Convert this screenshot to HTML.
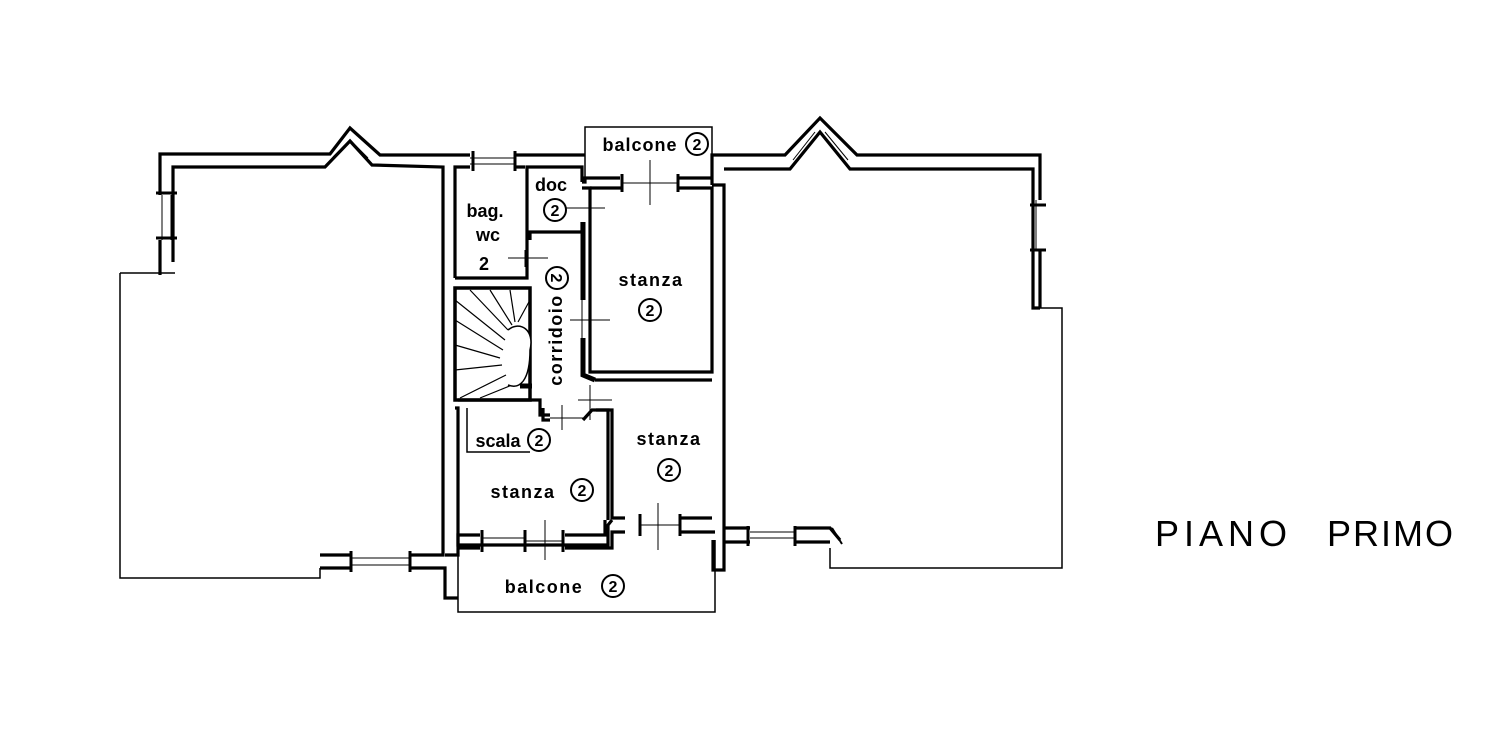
<!DOCTYPE html>
<html><head><meta charset="utf-8"><style>
html,body{margin:0;padding:0;background:#fff;width:1500px;height:749px;overflow:hidden}
svg text{font-family:"Liberation Sans",sans-serif;font-weight:bold;fill:#000}
</style></head><body>
<svg width="1500" height="749" viewBox="0 0 1500 749" xmlns="http://www.w3.org/2000/svg">
<g fill="none" stroke="#000" stroke-width="3.2" stroke-linejoin="miter">
<!-- LEFT WING -->
<polyline points="160,275 160,154 330,154 350,128 380,155 585,155"/>
<polyline points="173,262 173,167 325,167 350,141 372,165 443,167 443,555 320,555"/>
<line x1="333" y1="157" x2="345" y2="145" stroke-width="1"/>
<line x1="355" y1="145" x2="368" y2="158" stroke-width="1"/>
<polyline points="120,273 175,273" stroke-width="1.5"/>
<polyline points="120,273 120,578 320,578 320,568" stroke-width="1.5"/>
<polyline points="320,568 445,568 445,598 458,598"/>
<line x1="160" y1="195" x2="160" y2="240" stroke="#fff" stroke-width="4"/>
<line x1="162" y1="195" x2="162" y2="240" stroke-width="1"/>
<line x1="171" y1="195" x2="171" y2="240" stroke-width="1"/>
<line x1="156" y1="193" x2="177" y2="193" stroke-width="3"/>
<line x1="156" y1="238" x2="177" y2="238" stroke-width="3"/>
<line x1="350" y1="555" x2="410" y2="555" stroke="#fff" stroke-width="4"/>
<line x1="350" y1="568" x2="410" y2="568" stroke="#fff" stroke-width="4"/>
<line x1="350" y1="558" x2="410" y2="558" stroke-width="1"/>
<line x1="350" y1="565" x2="410" y2="565" stroke-width="1"/>
<line x1="351" y1="551" x2="351" y2="572" stroke-width="3"/>
<line x1="410" y1="551" x2="410" y2="572" stroke-width="3"/>
<!-- central top wall -->
<polyline points="455,278 455,167 525,167"/>
<line x1="470" y1="155" x2="515" y2="155" stroke="#fff" stroke-width="4"/>
<line x1="470" y1="167" x2="515" y2="167" stroke="#fff" stroke-width="4"/>
<line x1="470" y1="158" x2="515" y2="158" stroke-width="1"/>
<line x1="470" y1="164" x2="515" y2="164" stroke-width="1"/>
<line x1="473" y1="151" x2="473" y2="171" stroke-width="3"/>
<line x1="515" y1="151" x2="515" y2="171" stroke-width="3"/>
<!-- bag wc -->
<polyline points="455,278 527,278 527,240"/>
<polyline points="527,240 527,167 582,167 582,182"/>
<polyline points="530,240 530,232 582,232 582,222"/>
<line x1="508" y1="258" x2="548" y2="258" stroke-width="1"/>
<line x1="525" y1="250" x2="525" y2="267" stroke-width="1"/>
<!-- doc / balcone top -->
<polyline points="585,182 585,127 712,127 712,185" stroke-width="1.5"/>
<polyline points="582,182 585,182 585,178 620,178"/>
<polyline points="582,188 590,188 590,372 712,372 712,188 678,188"/>
<polyline points="590,188 622,188"/>
<line x1="622" y1="174" x2="622" y2="192" stroke-width="3"/>
<line x1="678" y1="174" x2="678" y2="192" stroke-width="3"/>
<line x1="678" y1="178" x2="712" y2="178"/>
<line x1="622" y1="183" x2="678" y2="183" stroke-width="1"/>
<line x1="650" y1="160" x2="650" y2="205" stroke-width="1"/>
<line x1="565" y1="208" x2="605" y2="208" stroke-width="1"/>
<!-- corridoio -->
<polyline points="583,222 583,300" stroke-width="5"/>
<polyline points="583,338 583,375 595,380" stroke-width="5"/>
<line x1="570" y1="320" x2="610" y2="320" stroke-width="1"/>
<line x1="582" y1="300" x2="582" y2="338" stroke-width="1"/>
<line x1="590" y1="385" x2="590" y2="420" stroke-width="1"/>
<line x1="578" y1="400" x2="612" y2="400" stroke-width="1"/>
<!-- right wing -->
<polyline points="712,185 712,155 785,155 820,118 857,155 1040,155 1040,308"/>
<polyline points="713,540 713,570 724,570 724,185 712,185"/>
<polyline points="724,169 790,169 820,132 850,169 1033,169 1033,308 1040,308"/>
<line x1="793" y1="160" x2="815" y2="132" stroke-width="1"/>
<line x1="825" y1="132" x2="848" y2="160" stroke-width="1"/>
<polyline points="1040,308 1062,308 1062,568 830,568 830,548" stroke-width="1.5"/>
<line x1="1040" y1="200" x2="1040" y2="250" stroke="#fff" stroke-width="4"/>
<line x1="1036" y1="200" x2="1036" y2="250" stroke-width="1"/>
<line x1="1030" y1="205" x2="1046" y2="205" stroke-width="3"/>
<line x1="1030" y1="250" x2="1046" y2="250" stroke-width="3"/>
<polyline points="724,528 830,528 840,540"/>
<polyline points="724,542 830,542"/>
<line x1="750" y1="528" x2="795" y2="528" stroke="#fff" stroke-width="4"/>
<line x1="750" y1="542" x2="795" y2="542" stroke="#fff" stroke-width="4"/>
<line x1="750" y1="532" x2="795" y2="532" stroke-width="1"/>
<line x1="750" y1="538" x2="795" y2="538" stroke-width="1"/>
<line x1="748" y1="526" x2="748" y2="546" stroke-width="3"/>
<line x1="795" y1="526" x2="795" y2="546" stroke-width="3"/>
<line x1="832" y1="528" x2="842" y2="544" stroke-width="2"/>
<!-- stair -->
<rect x="455" y="288" width="75" height="112" stroke-width="3.5"/>
<g stroke-width="1.2">
<path d="M455,300 L505,340 M455,320 L503,350 M455,345 L500,358 M455,370 L502,365 M460,398 L506,375 M480,398 L512,385 M470,290 L508,330 M490,290 L512,325 M510,290 L515,322 M530,300 L518,322"/>
<path d="M508,330 C520,320 535,330 530,350 C530,380 520,390 508,385" fill="#fff" stroke-width="1.5"/>
</g>
<line x1="520" y1="386" x2="532" y2="386" stroke-width="5"/>
<!-- stair/corridor walls -->
<polyline points="458,400 540,400 540,415 550,415"/>
<polyline points="455,408 458,408 458,545 608,545 608,525 612,520"/>
<polyline points="543,408 543,420 550,420"/>
<polyline points="583,420 592,410 608,410 608,520"/>
<polyline points="596,410 612,410 612,518 625,518"/>
<polyline points="595,380 712,380"/>
<line x1="562" y1="405" x2="562" y2="430" stroke-width="1"/>
<line x1="550" y1="418" x2="583" y2="418" stroke-width="1"/>
<polyline points="467,408 467,452 530,452" stroke-width="1.5"/>
<!-- bottom windows/balcone -->
<polyline points="458,555 458,612 715,612 715,540" stroke-width="1.5"/>
<polyline points="445,555 458,555 458,535 480,535"/>
<polyline points="458,548 480,548"/>
<polyline points="565,535 605,535 605,520"/>
<polyline points="565,548 612,548 612,532 625,532"/>
<line x1="482" y1="530" x2="482" y2="552" stroke-width="3"/>
<line x1="525" y1="530" x2="525" y2="552" stroke-width="3"/>
<line x1="563" y1="530" x2="563" y2="552" stroke-width="3"/>
<line x1="482" y1="538" x2="525" y2="538" stroke-width="1"/>
<line x1="482" y1="545" x2="525" y2="545" stroke-width="1"/>
<line x1="525" y1="541" x2="563" y2="541" stroke-width="1"/>
<line x1="545" y1="520" x2="545" y2="560" stroke-width="1"/>
<line x1="640" y1="514" x2="640" y2="536" stroke-width="3"/>
<line x1="680" y1="514" x2="680" y2="536" stroke-width="3"/>
<polyline points="680,518 712,518"/>
<polyline points="680,532 715,532"/>
<line x1="640" y1="525" x2="680" y2="525" stroke-width="1"/>
<line x1="658" y1="503" x2="658" y2="550" stroke-width="1"/>
<circle cx="697" cy="144" r="11" stroke-width="2"/>
<circle cx="555" cy="210" r="11" stroke-width="2"/>
<circle cx="557" cy="278" r="11" stroke-width="2"/>
<circle cx="650" cy="310" r="11" stroke-width="2"/>
<circle cx="539" cy="440" r="11" stroke-width="2"/>
<circle cx="669" cy="470" r="11" stroke-width="2"/>
<circle cx="582" cy="490" r="11" stroke-width="2"/>
<circle cx="613" cy="586" r="11" stroke-width="2"/>
</g>
<g font-size="18" text-anchor="middle">
<text x="640" y="151" letter-spacing="1">balcone</text>
<text x="697" y="150" font-size="16">2</text>
<text x="551" y="191">doc</text>
<text x="555" y="216" font-size="16">2</text>
<text x="485" y="217">bag.</text>
<text x="488" y="241">wc</text>
<text x="484" y="270">2</text>
<text x="651" y="286" letter-spacing="1.5">stanza</text>
<text x="650" y="316" font-size="16">2</text>
<text x="557" y="284" font-size="16" transform="rotate(90 557 278)">2</text>
<text x="562" y="340" transform="rotate(-90 562 340)" letter-spacing="1.5">corridoio</text>
<text x="498" y="447">scala</text>
<text x="539" y="446" font-size="16">2</text>
<text x="669" y="445" letter-spacing="1.5">stanza</text>
<text x="669" y="476" font-size="16">2</text>
<text x="523" y="498" letter-spacing="1.5">stanza</text>
<text x="582" y="496" font-size="16">2</text>
<text x="544" y="593" letter-spacing="1.5">balcone</text>
<text x="613" y="592" font-size="16">2</text>
</g>
<text x="1155" y="546" font-size="36" letter-spacing="5" style="font-weight:normal">PIANO</text>
<text x="1327" y="546" font-size="36" letter-spacing="2" style="font-weight:normal">PRIMO</text>
</svg>
</body></html>
